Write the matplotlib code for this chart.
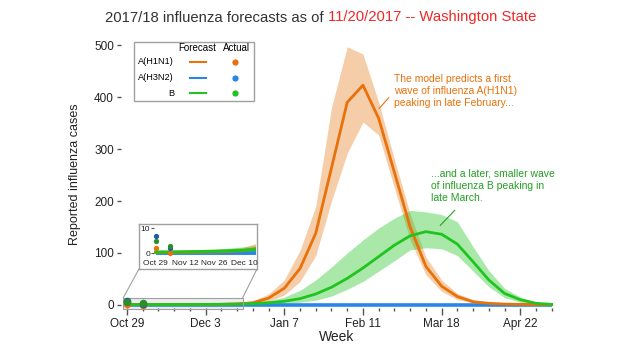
import matplotlib
matplotlib.use('Agg')
import matplotlib.pyplot as plt
from matplotlib.patches import Rectangle, ConnectionPatch
from matplotlib.lines import Line2D

plt.rcParams['font.family'] = ['Liberation Sans', 'DejaVu Sans']

W, H = 620, 350

# weeks since Oct 29, 2017
weeks = list(range(28))
tick_weeks = [0, 5, 10, 15, 20, 25]
tick_labels = ['Oct 29', 'Dec 3', 'Jan 7', 'Feb 11', 'Mar 18', 'Apr 22']
inset_ticks = [0, 2, 4, 6]
inset_labels = ['Oct 29', 'Nov 12', 'Nov 26', 'Dec 10']

# forecasts (median and band)
h1n1 = [0.4, 0.4, 0.4, 0.5, 0.6, 0.8, 1.1, 2, 4, 13, 32, 70, 138, 264, 390,
        423, 359, 255, 150, 74, 36, 16, 6, 3, 1.5, 1, 0.5, 0.3]
h1n1_lo = [0.2, 0.2, 0.2, 0.3, 0.4, 0.5, 0.7, 1, 2, 7, 19, 45, 95, 200, 292,
           352, 327, 225, 125, 58, 26, 10, 4, 1.5, 0.7, 0.3, 0.2, 0.1]
h1n1_hi = [0.8, 0.8, 0.9, 1, 1.2, 1.6, 2.2, 4, 8, 21, 48, 105, 190, 380, 497,
           483, 390, 280, 175, 92, 48, 22, 10, 5, 3, 2, 1, 0.5]
h3n2 = [0.1] * 28
b = [0.5, 0.5, 0.6, 0.7, 0.8, 1, 1.2, 1.6, 2.5, 4, 7, 12, 21, 34, 51, 71, 93,
     115, 133, 141, 136, 117, 83, 48, 22, 10, 3, 1]
b_lo = [0.2, 0.2, 0.3, 0.3, 0.4, 0.5, 0.6, 0.8, 1, 2, 3, 5, 9, 17, 30, 45, 65,
        85, 106, 110, 108, 95, 65, 35, 14, 5, 1, 0.2]
b_hi = [0.9, 1, 1.1, 1.3, 1.5, 1.9, 2.4, 3.2, 5, 8, 15, 28, 48, 73, 100, 125,
        148, 167, 182, 179, 174, 160, 112, 66, 32, 15, 5, 2]

# reported cases
actual_weeks = [0, 1]
actual_h1n1 = [2, 0]
actual_h3n2 = [7, 2]
actual_b = [5, 3]

ORANGE = '#e8710a'
BLUE = '#2a86e6'
GREEN = '#1fc41f'
DOT_ORANGE = '#e8710a'
DOT_BLUE = '#1d5aa8'
DOT_GREEN = '#2a8f2a'
GRAY = '#a0a0a0'


def fx(x):
    return x / W


def fy(y):
    return 1 - y / H


def draw_series(ax, lw, ms):
    ax.fill_between(weeks, h1n1_lo, h1n1_hi, color=ORANGE, alpha=0.35, lw=0)
    ax.fill_between(weeks, b_lo, b_hi, color=GREEN, alpha=0.38, lw=0)
    ax.plot(weeks, h3n2, color=BLUE, lw=lw + 0.6, solid_capstyle='butt')
    ax.plot(weeks, h1n1, color=ORANGE, lw=lw)
    ax.plot(weeks, b, color=GREEN, lw=lw)
    ax.plot(actual_weeks, actual_h1n1, 'o', color=DOT_ORANGE, ms=ms, mec='none', clip_on=False, zorder=6)
    ax.plot(actual_weeks, actual_h3n2, 'o', color=DOT_BLUE, ms=ms, mec='none', clip_on=False, zorder=6)
    ax.plot(actual_weeks, actual_b, 'o', color=DOT_GREEN, ms=ms, mec='none', clip_on=False, zorder=6)


fig = plt.figure(figsize=(6.2, 3.5), dpi=100)

# main axes
ax = fig.add_axes([fx(121), fy(308), (553 - 121) / W, (308 - 40) / H])
draw_series(ax, 2.0, 5.5)
ax.set_xlim(-0.38, 27.08)
ax.set_ylim(-6, 510)
for s in ax.spines.values():
    s.set_visible(False)
ax.set_xticks(tick_weeks)
ax.set_xticklabels(tick_labels)
ax.set_xticks(weeks, minor=True)
ax.set_yticks([0, 100, 200, 300, 400, 500])
ax.tick_params(axis='x', which='major', length=5, width=1, color='#555555',
               labelsize=8.5, pad=2, labelcolor='#222222')
ax.tick_params(axis='x', which='minor', length=2.5, width=1, color='#555555')
ax.tick_params(axis='y', length=3, width=1, color='#555555', labelsize=8.5,
               pad=2, labelcolor='#222222')

# annotations
ax.text(16.99, 444, 'The model predicts a first\nwave of influenza A(H1N1)\npeaking in late February...',
        color=ORANGE, fontsize=7.5, va='top', ha='left', linespacing=1.25)
ax.annotate('', xy=(15.91, 374), xytext=(16.76, 403),
            arrowprops=dict(arrowstyle='-', color=ORANGE, lw=0.8))
ax.text(19.33, 262, '...and a later, smaller wave\nof influenza B peaking in\nlate March.',
        color='#22a022', fontsize=7.5, va='top', ha='left', linespacing=1.25)
ax.annotate('', xy=(19.79, 149), xytext=(20.96, 186),
            arrowprops=dict(arrowstyle='-', color='#22a022', lw=0.8))

# zoom region on main axes
ax.add_patch(Rectangle((-0.24, -7), 7.59, 20.5, facecolor='#dddddd', alpha=0.5,
                       edgecolor='none', zorder=0.5, clip_on=False))
ax.add_patch(Rectangle((-0.24, -7), 7.59, 20.5, facecolor='none',
                       edgecolor=GRAY, lw=0.8, zorder=5, clip_on=False))
for xa, xb in [(-0.24, 139), (7.35, 257)]:
    con = ConnectionPatch(xyA=(xa, 13.5), coordsA=ax.transData,
                          xyB=(fx(xb), fy(269)), coordsB=fig.transFigure,
                          color=GRAY, lw=0.8, zorder=2)
    fig.add_artist(con)

# inset box and axes
ax_box = fig.add_axes([fx(139), fy(269), 118 / W, 45 / H], zorder=3)
ax_box.set_xticks([])
ax_box.set_yticks([])
for s in ax_box.spines.values():
    s.set_color(GRAY)
    s.set_linewidth(1)

ax_in = fig.add_axes([fx(154.2), fy(255.8), (255.7 - 154.2) / W, 30 / H], zorder=4)
ax_in.patch.set_visible(False)
draw_series(ax_in, 2.2, 3.8)
ax_in.set_xlim(-0.1, 6.8)
ax_in.set_ylim(-1, 11)
for s in ax_in.spines.values():
    s.set_visible(False)
ax_in.set_xticks(inset_ticks)
ax_in.set_xticklabels(inset_labels)
ax_in.set_yticks([0, 10])
ax_in.tick_params(axis='x', length=0, labelsize=6, pad=3, labelcolor='#222222')
ax_in.tick_params(axis='y', length=2, width=0.8, color='#555555', labelsize=6,
                  pad=1, labelcolor='#222222')

# legend
fig.add_artist(Rectangle((fx(134), fy(101)), 120 / W, 59 / H, transform=fig.transFigure,
                         facecolor='white', edgecolor=GRAY, lw=1, zorder=6))
fig.text(fx(197), fy(48), 'Forecast', fontsize=7, ha='center', va='center', zorder=7)
fig.text(fx(236), fy(48), 'Actual', fontsize=7, ha='center', va='center', zorder=7)
legend_rows = [('A(H1N1)', ORANGE, 62), ('A(H3N2)', BLUE, 78), ('B', GREEN, 93)]
for name, col, yy in legend_rows:
    fig.text(fx(174), fy(yy), name, fontsize=6.6, ha='right', va='center', zorder=7)
    fig.add_artist(Line2D([fx(190), fx(206)], [fy(yy), fy(yy)], color=col, lw=1.5, zorder=7))
    fig.add_artist(Line2D([fx(235)], [fy(yy)], marker='o', ms=4.5, color=col, mec='none', zorder=7))

# axis labels
fig.text(fx(75), fy(174), 'Reported influenza cases', rotation=90, fontsize=9,
         ha='center', va='center', color='#222222')
fig.text(fx(337), fy(337), 'Week', fontsize=10, ha='center', va='center', color='#222222')

# two-colour title
renderer = fig.canvas.get_renderer()
t1 = fig.text(0, fy(17.5), '2017/18 influenza forecasts as of ', fontsize=10.7,
              color='#333333', va='center', ha='left')
t2 = fig.text(0, fy(17.5), '11/20/2017 -- Washington State', fontsize=10.7,
              color='#f02828', va='center', ha='left')
w1 = t1.get_window_extent(renderer).width
w2 = t2.get_window_extent(renderer).width
x0 = 321 - (w1 + w2) / 2
t1.set_x(fx(x0))
t2.set_x(fx(x0 + w1))

fig.savefig('out.png', dpi=100)
